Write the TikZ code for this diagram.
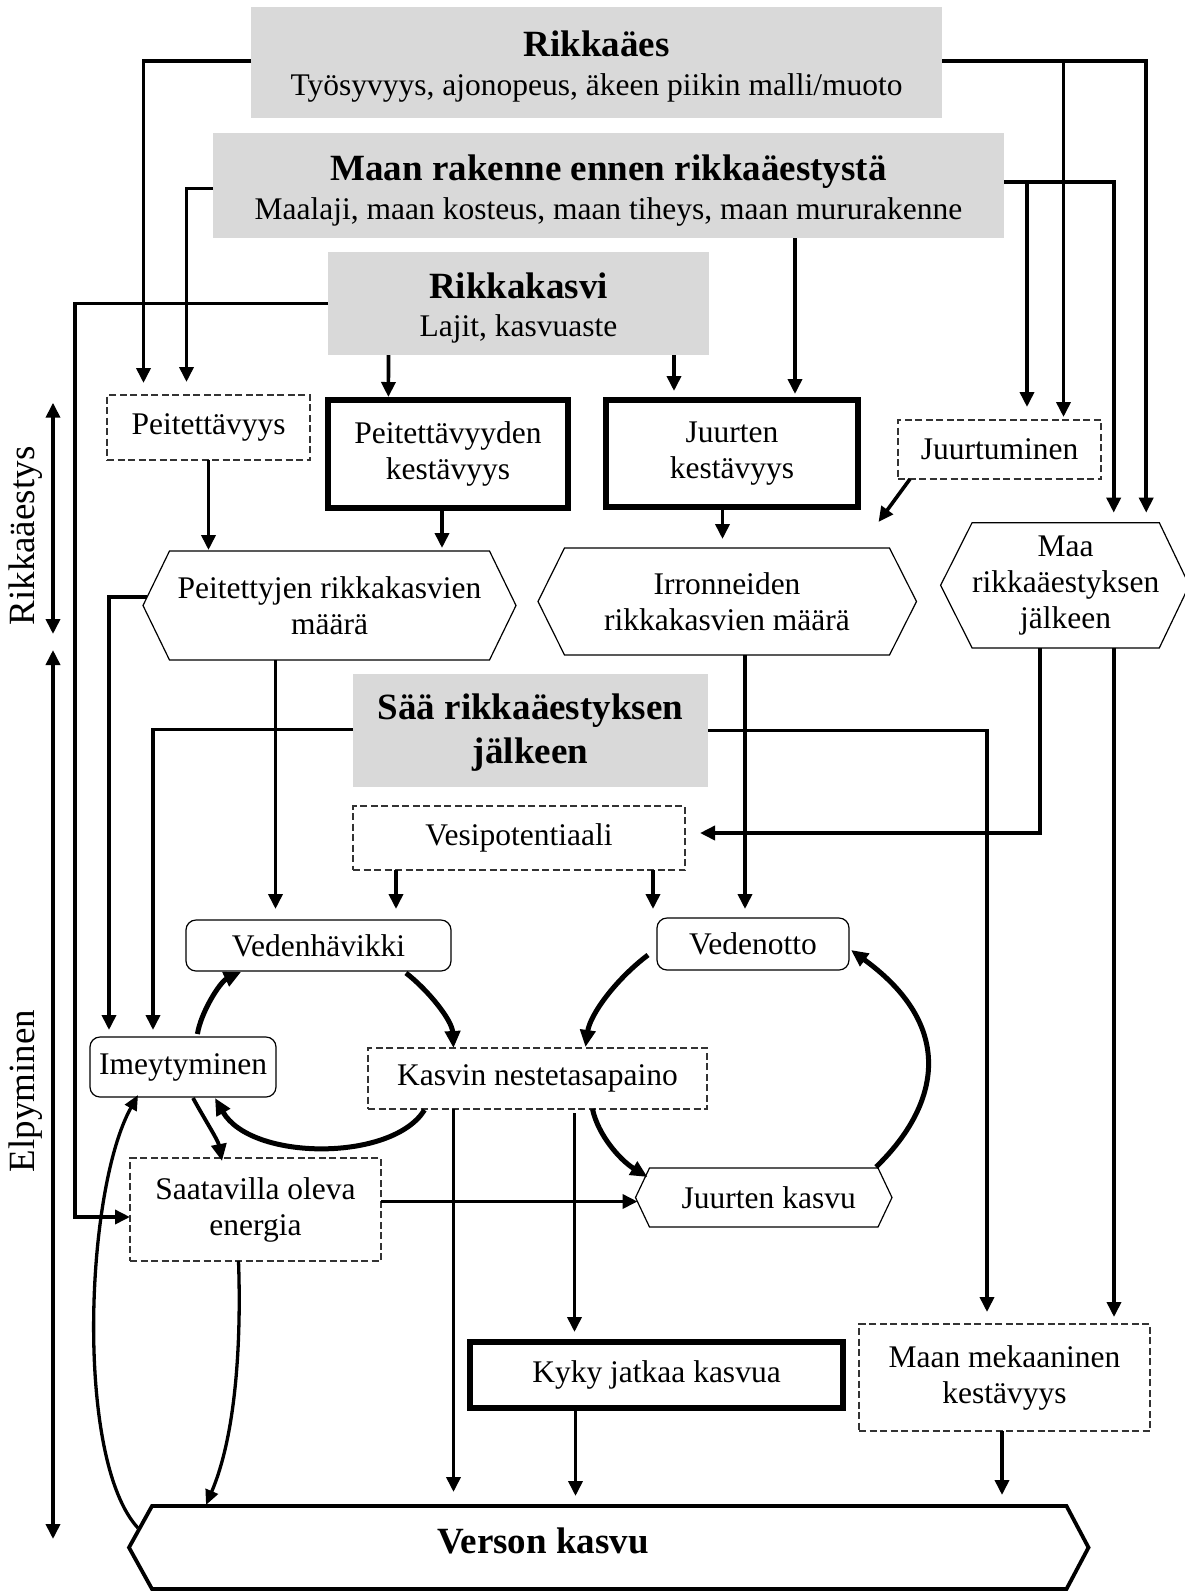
\documentclass[tikz,border=0pt]{standalone}
\usepackage{fontspec}
\setmainfont{Liberation Serif}
\usetikzlibrary{arrows.meta,calc}
\definecolor{boxgray}{HTML}{D9D9D9}
\newcommand{\mytitlefont}{\fontsize{37}{43}\selectfont\bfseries}
\begin{document}
\begin{tikzpicture}[x=1pt,y=-1pt,
  every node/.style={font=\fontsize{31.5}{36}\selectfont, align=center, inner sep=0pt, outer sep=0pt},
  graybox/.style={fill=boxgray},
  dashbox/.style={draw=black!80, line width=1.3pt, dash pattern=on 7pt off 3.5pt},
  thickbox/.style={draw, line width=6pt},
  roundbox/.style={draw, line width=1.2pt, rounded corners=10pt},
  hexline/.style={line width=1.2pt},
  conn/.style={line width=3.6pt, -{Triangle[length=15pt,width=14pt]}},
  dconn/.style={line width=3.6pt, {Triangle[length=15pt,width=14pt]}-{Triangle[length=15pt,width=14pt]}},
  cyc/.style={line width=5pt, -{Triangle[length=17pt,width=15pt]}},
  thinarc/.style={line width=3.3pt, -{Triangle[length=15pt,width=13pt]}},
]
\fill[white] (0,0) rectangle (1184,1591);
\useasboundingbox (0,0) rectangle (1184,1591);

% gray boxes
\node[graybox, minimum width=691pt, minimum height=111pt] (rikkaaes) at (596.5,62.5) {};
\node (rikkaaestxt) at ($(rikkaaes.center)+(0,4.5)$)
  {{\mytitlefont Rikkaäes}\\[3pt] Työsyvyys, ajonopeus, äkeen piikin malli/muoto};
\node[graybox, minimum width=791pt, minimum height=105pt] (maan) at (608.5,185.5) {};
\node (maantxt) at ($(maan.center)+(0,5)$)
  {{\mytitlefont Maan rakenne ennen rikkaäestystä}\\[3pt] Maalaji, maan kosteus, maan tiheys, maan mururakenne};
\node[graybox, minimum width=381pt, minimum height=103pt] (rikkakasvi) at (518.5,303.5) {};
\node (rikkakasvitxt) at ($(rikkakasvi.center)+(0,5)$)
  {{\mytitlefont Rikkakasvi}\\[2pt] Lajit, kasvuaste};
\node[graybox, minimum width=355pt, minimum height=113pt] (saa) at (530.5,730.5) {};
\node[font=\fontsize{37}{44}\selectfont\bfseries] (saatxt) at ($(saa.center)+(0,2)$)
  {Sää rikkaäestyksen\\jälkeen};

% dashed boxes
\node[dashbox, minimum width=203pt, minimum height=65pt] (peitettavyys) at (208.5,427.5) {Peitettävyys};
\node[dashbox, minimum width=203pt, minimum height=59pt] (juurtuminen) at (999.5,449.5) {Juurtuminen};
\node[dashbox, minimum width=332pt, minimum height=64pt] (vesipot) at (519,838) {Vesipotentiaali};
\node[dashbox, minimum width=339pt, minimum height=61pt] (kasvin) at (537.5,1078.5) {Kasvin nestetasapaino};
\node[dashbox, minimum width=251pt, minimum height=103pt] (saatavilla) at (255.5,1209.5) {Saatavilla oleva\\energia};
\node[dashbox, minimum width=291pt, minimum height=107pt] (maanmek) at (1004.5,1377.5) {Maan mekaaninen\\kestävyys};

% thick boxes
\node[thickbox, minimum width=240pt, minimum height=108pt] (peitkest) at (448,454) {Peitettävyyden\\kestävyys};
\node[thickbox, minimum width=252pt, minimum height=107pt] (juurkest) at (732,453.5) {Juurten\\kestävyys};
\node[thickbox, minimum width=373pt, minimum height=66pt] (kyky) at (656.5,1375) {Kyky jatkaa kasvua};

% rounded boxes
\node[roundbox, minimum width=265pt, minimum height=51pt] (vedenhav) at (318.5,945.5) {Vedenhävikki};
\node[roundbox, minimum width=186pt, minimum height=60pt] (imeyt) at (183,1067) {Imeytyminen};
\node[roundbox, minimum width=192pt, minimum height=52pt] (vedenotto) at (753,944) {Vedenotto};

% hexagons
\node[minimum width=320pt, minimum height=109pt] (peitettyjen) at (329.5,605.5) {Peitettyjen rikkakasvien\\määrä};
\draw[hexline] (peitettyjen.north west) -- (peitettyjen.north east) -- ($(peitettyjen.east)+(26.5,0)$)
  -- (peitettyjen.south east) -- (peitettyjen.south west) -- ($(peitettyjen.west)+(-26.5,0)$) -- cycle;
\node[minimum width=325pt, minimum height=107pt] (irronneiden) at (727,601.5) {Irronneiden\\rikkakasvien määrä};
\draw[hexline] (irronneiden.north west) -- (irronneiden.north east) -- ($(irronneiden.east)+(27,0)$)
  -- (irronneiden.south east) -- (irronneiden.south west) -- ($(irronneiden.west)+(-26.5,0)$) -- cycle;
\node[minimum width=171.4pt, minimum height=125.3pt] (maa) at (1065.7,585.3) {Maa\\rikkaäestyksen\\jälkeen};
\draw[hexline] (maa.north west) -- (maa.north east) -- ($(maa.east)+(30,0)$)
  -- (maa.south east) -- (maa.south west) -- ($(maa.west)+(-31.5,0)$) -- cycle;
\node[minimum width=228.5pt, minimum height=59pt] (juurkasvu) at (763.75,1197.5) {\hspace*{10pt}Juurten kasvu};
\draw[hexline] (juurkasvu.north west) -- (juurkasvu.north east) -- ($(juurkasvu.east)+(14,0)$)
  -- (juurkasvu.south east) -- (juurkasvu.south west) -- ($(juurkasvu.west)+(-14,0)$) -- cycle;
\node[minimum width=914.5pt, minimum height=83pt] (verson) at (609.25,1547.5) {};
\draw[line width=3.8pt] (verson.north west) -- (verson.north east) -- ($(verson.east)+(22,0)$)
  -- (verson.south east) -- (verson.south west) -- ($(verson.west)+(-23,0)$) -- cycle;
\node[font=\mytitlefont] (versontxt) at (543,1541) {Verson kasvu};

% side labels and arrows
\node[rotate=90, font=\fontsize{37}{43}\selectfont] (lblr) at (26,536) {Rikkaäestys};
\node[rotate=90, font=\fontsize{37}{43}\selectfont] (lble) at (26,1091) {Elpyminen};
\coordinate (rtop) at (53,402.7);
\coordinate (rbot) at (53,634);
\coordinate (etop) at (53,650);
\coordinate (ebot) at (53,1539);
\draw[dconn] (rtop) -- (rbot);
\draw[dconn] (etop) -- (ebot);

% connectors from top boxes
\draw[conn] ([yshift=1.5pt]rikkaaes.west) -| ($(peitettavyys.north)+(-65,-12)$);
\draw[conn] ([yshift=-3pt]maan.west) -| ($(peitettavyys.north)+(-22,-13)$);
\draw[conn] (rikkakasvi.west) -| ($(saatavilla.west)+(-55,7.5)$) -- ($(saatavilla.west)+(0,7.5)$);
\draw[conn] ($(rikkakasvi.south)+(-130,0)$) -- ($(peitkest.north)+(-59.6,-3)$);
\draw[conn] ($(rikkakasvi.south)+(155.5,0)$) -- ($(juurkest.north)+(-58,-9)$);
\draw[conn] ($(maan.south)+(186.5,0)$) -- ($(juurkest.north)+(63,-6)$);
\draw[conn] ([yshift=1.5pt]rikkaaes.east) -| ($(maa.north)+(80.5,-10)$);
\draw[conn] ($(rikkaaes.east)+(121.5,-1.5)$) -- ($(juurtuminen.north)+(64,-3)$);
\draw[conn] ([yshift=3.5pt]maan.east) -| ($(maa.north)+(48,-10)$);
\draw[conn] ($(maan.east)+(23,-3.5)$) -- ($(juurtuminen.north)+(27.5,-13)$);
\draw[conn] ($(juurtuminen.south west)+(12,0)$) -- ($(irronneiden.north east)+(-11,-26)$);

% middle connectors
\draw[conn] (peitettavyys.south) -- ($(peitettavyys.south |- peitettyjen.north)+(0,-1)$);
\draw[conn] ($(peitkest.south)+(-6,3)$) -- ($(peitkest.south |- peitettyjen.north)+(-6,-3)$);
\draw[conn] ($(juurkest.south)+(-9.5,3)$) -- ($(juurkest.south |- irronneiden.north)+(-9.5,-9)$);
\draw[conn] ($(peitettyjen.west)+(-22.4,-8.5)$) -| ($(imeyt.north)+(-74,-7)$);
\draw[conn] ($(peitettyjen.south)+(-54,0)$) -- ($(vedenhav.north)+(-43,-11)$);
\draw[conn] ($(irronneiden.south)+(18,0)$) -- ($(vedenotto.north)+(-8,-9)$);
\draw[conn] ($(maa.south)+(-26,0)$) |- ($(vesipot.east)+(15,-5)$);
\draw[conn] ($(maa.south)+(48.3,0)$) -- ($(maanmek.north)+(109.5,-7)$);
\draw[conn] ($(saa.west)+(0,-1)$) -| ($(imeyt.north)+(-30,-7)$);
\draw[conn] (saa.east) -| ($(maanmek.north)+(-17.5,-12)$);
\draw[conn] ($(vesipot.south)+(-123,0)$) -- ($(vedenhav.north)+(77.5,-11)$);
\draw[conn] ($(vesipot.south)+(134,0)$) -- ($(vedenotto.north)+(-100,-9)$);

% lower connectors
\draw[conn] ($(kasvin.south)+(-84,0)$) -- ($(verson.north)+(-155.75,-14)$);
\draw[conn] ($(kasvin.south)+(37,4)$) -- ($(kyky.north)+(-82,-10)$);
\draw[conn] ($(kyky.south)+(-81,3)$) -- ($(verson.north)+(-33.75,-10)$);
\draw[conn] ($(maanmek.south)+(-2.5,0)$) -- ($(verson.north)+(392.75,-11)$);
\draw[conn] ($(saatavilla.east)+(0,-8)$) -- ($(juurkasvu.west)+(-12,4)$);

% cycle arcs
\draw[cyc] ($(imeyt.north)+(14.4,-3)$) .. controls (201,1012) and (220,982) .. ($(vedenhav.south)+(-77.5,1)$);
\draw[cyc] ($(vedenhav.south)+(87.5,2)$) .. controls (428,990) and (452,1020) .. ($(kasvin.north)+(-84,0)$);
\draw[cyc] ($(kasvin.south)+(-113,1)$) .. controls (392,1162) and (251,1161) .. ($(imeyt.south)+(32,1)$);
\draw[cyc, line width=3.8pt] ($(imeyt.south)+(10,1)$) .. controls (205,1120) and (218,1140) .. ($(saatavilla.north)+(-33.5,3)$);
\draw[cyc] ($(vedenotto.west)+(-9,11)$) .. controls (615,980) and (590,1015) .. ($(kasvin.north)+(48,-1)$);
\draw[cyc] ($(kasvin.south)+(55,0)$) .. controls (598,1135) and (620,1160) .. ($(juurkasvu.north west)+(-2,9)$);
\draw[cyc] ($(juurkasvu.north east)+(-2,-1)$) .. controls (935,1110) and (961,1030) .. ($(vedenotto.east)+(2,6)$);
\draw[thinarc] ($(verson.west)+(-14,-19.5)$) .. controls (75,1460) and (85,1190) .. ($(imeyt.south)+(-45,-2)$);
\draw[thinarc] ($(saatavilla.south)+(-17,0)$) .. controls (241,1330) and (238,1430) .. ($(verson.north west)+(54,-1)$);
\end{tikzpicture}
\end{document}
